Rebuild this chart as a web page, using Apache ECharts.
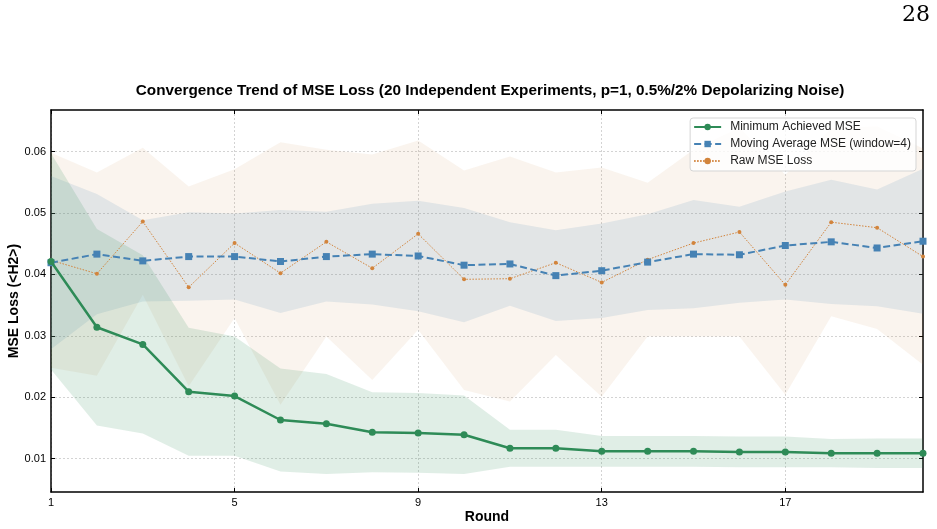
<!DOCTYPE html>
<html>
<head>
<meta charset="utf-8">
<script src="https://cdn.jsdelivr.net/npm/echarts@6/dist/echarts.min.js"></script>
<style>
html,body{margin:0;padding:0;background:#fff;}
#chart{width:937px;height:529px;}
</style>
</head>
<body>
<div id="chart"></div>
<script>
const rounds = ['1','2','3','4','5','6','7','8','9','10','11','12','13','14','15','16','17','18','19','20'];
const yTicks = [0.01, 0.02, 0.03, 0.04, 0.05, 0.06];

const minMse = [0.0421,0.0314,0.0286,0.0209,0.0202,0.0163,0.0157,0.0143,0.0142,0.0139,0.0117,0.0117,0.0112,0.0112,0.0112,0.0111,0.0111,0.0109,0.0109,0.0109];
const minLower = [0.0245,0.0154,0.0141,0.0105,0.0105,0.0079,0.0075,0.0078,0.0077,0.0075,0.0087,0.0087,0.0087,0.0087,0.0087,0.0086,0.0086,0.0086,0.0085,0.0085];
const minUpper = [0.0597,0.0474,0.0431,0.0313,0.0299,0.0247,0.0238,0.0208,0.0207,0.0203,0.0147,0.0147,0.0137,0.0137,0.0137,0.0136,0.0136,0.0132,0.0133,0.0133];

const movAvg = [0.0419,0.0433,0.0422,0.0429,0.0429,0.0421,0.0429,0.0433,0.0430,0.0415,0.0417,0.0398,0.0406,0.0420,0.0433,0.0432,0.0447,0.0453,0.0443,0.0454];
const avgLower = [0.0278,0.0335,0.0356,0.0357,0.0359,0.0337,0.0356,0.0351,0.0340,0.0322,0.0349,0.0324,0.0329,0.0342,0.0345,0.0354,0.0359,0.0352,0.0348,0.0336];
const avgUpper = [0.0560,0.0531,0.0488,0.0501,0.0499,0.0505,0.0502,0.0515,0.0520,0.0508,0.0485,0.0472,0.0483,0.0498,0.0521,0.0510,0.0535,0.0554,0.0538,0.0572];

const rawMse = [0.0423,0.0401,0.0486,0.0379,0.0451,0.0402,0.0453,0.0410,0.0466,0.0392,0.0393,0.0419,0.0387,0.0424,0.0451,0.0469,0.0383,0.0485,0.0476,0.0429];
const rawLower = [0.0248,0.0235,0.0367,0.0218,0.0329,0.0188,0.0299,0.0228,0.0310,0.0212,0.0193,0.0269,0.0201,0.0299,0.0299,0.0299,0.0204,0.0332,0.0311,0.0253];
const rawUpper = [0.0598,0.0566,0.0606,0.0543,0.0571,0.0615,0.0603,0.0595,0.0618,0.0569,0.0592,0.0566,0.0574,0.0549,0.0603,0.0639,0.0562,0.0638,0.0641,0.0605];

const GREEN = '#2e8b57', BLUE = '#4682b4', ORANGE = '#d2843c';
const FONT = '"Liberation Sans", Arial, Helvetica, sans-serif';

function band(name, lower, upper, color, opacity, z) {
  return [
    { name: name + '_lo', type: 'line', data: lower, stack: name, symbol: 'none', lineStyle: { opacity: 0 }, silent: true, z: z },
    { name: name + '_band', type: 'line', data: upper.map((u, i) => +(u - lower[i]).toFixed(6)), stack: name, symbol: 'none', lineStyle: { opacity: 0 }, areaStyle: { color: color, opacity: opacity }, silent: true, z: z }
  ];
}

const yMin = 0.00458, yMax = 0.06676;
const chart = echarts.init(document.getElementById('chart'), null, { renderer: 'canvas' });
const xBase = {
  type: 'category', data: rounds, boundaryGap: false,
  axisLine: { lineStyle: { color: '#000', width: 1.5 } },
  axisTick: { inside: true, length: 4, interval: 3, lineStyle: { color: '#000' } },
};
const yBase = {
  type: 'value', min: yMin, max: yMax,
  axisLine: { show: true, lineStyle: { color: '#000', width: 1.5 } },
  axisTick: { show: true, inside: true, length: 4, customValues: yTicks, lineStyle: { color: '#000' } },
};
chart.setOption({
  animation: false,
  backgroundColor: '#fff',
  title: {
    text: 'Convergence Trend of MSE Loss (20 Independent Experiments, p=1, 0.5%/2% Depolarizing Noise)',
    left: 485, top: 78, textAlign: 'center',
    textStyle: { fontFamily: FONT, fontSize: 15.3, fontWeight: 'bold', color: '#000' }
  },
  graphic: [{
    type: 'text', right: 7, top: 4,
    style: { text: '28', font: '22px "DejaVu Serif", "Liberation Serif", serif', fill: '#000' }
  }],
  legend: {
    data: ['Minimum Achieved MSE', 'Moving Average MSE (window=4)', 'Raw MSE Loss'],
    orient: 'vertical', right: 21, top: 118,
    itemWidth: 27, itemHeight: 8, itemGap: 5,
    padding: [3, 5, 4, 3],
    backgroundColor: 'rgba(255,255,255,0.8)', borderColor: '#d5d5d5', borderWidth: 1, borderRadius: 3,
    textStyle: { fontFamily: FONT, fontSize: 12, color: '#222', padding: [0, 0, 0, 4] }
  },
  grid: { left: 51, right: 14, top: 110, bottom: 37, outerBoundsMode: 'none', containLabel: false },
  xAxis: [
    Object.assign({}, xBase, {
      position: 'bottom',
      name: 'Round', nameLocation: 'middle', nameGap: 18, nameMoveOverlap: false,
      nameTextStyle: { fontFamily: FONT, fontSize: 14, fontWeight: 'bold', color: '#000' },
      axisLabel: { interval: 3, fontFamily: FONT, fontSize: 11, color: '#000', margin: 5 },
      splitLine: { show: true, interval: 3, lineStyle: { color: '#c8c8c8', type: [2, 2], width: 0.8 } }
    }),
    Object.assign({}, xBase, { position: 'top', axisLabel: { show: false }, splitLine: { show: false } })
  ],
  yAxis: [
    Object.assign({}, yBase, {
      position: 'left',
      name: 'MSE Loss (<H2>)', nameLocation: 'middle', nameGap: 30, nameRotate: 90, nameMoveOverlap: false,
      nameTextStyle: { fontFamily: FONT, fontSize: 14, fontWeight: 'bold', color: '#000' },
      axisLabel: { customValues: yTicks, formatter: v => v.toFixed(2), fontFamily: FONT, fontSize: 11, color: '#000', margin: 5 },
      splitLine: { show: true, lineStyle: { color: '#c8c8c8', type: [2, 2], width: 0.8 } }
    }),
    Object.assign({}, yBase, { position: 'right', axisLabel: { show: false }, splitLine: { show: false } })
  ],
  series: [
    ...band('raw', rawLower, rawUpper, '#cd853f', 0.09, 1),
    ...band('avg', avgLower, avgUpper, '#4682b4', 0.13, 2),
    ...band('min', minLower, minUpper, '#2e8b57', 0.15, 3),
    {
      name: 'Raw MSE Loss', type: 'line', data: rawMse, z: 5,
      symbol: 'circle', symbolSize: 4,
      lineStyle: { color: ORANGE, width: 1, type: [1.5, 1.5] },
      itemStyle: { color: ORANGE }
    },
    {
      name: 'Moving Average MSE (window=4)', type: 'line', data: movAvg, z: 6,
      symbol: 'rect', symbolSize: 7,
      lineStyle: { color: BLUE, width: 2, type: [7, 3.5] },
      itemStyle: { color: BLUE }
    },
    {
      name: 'Minimum Achieved MSE', type: 'line', data: minMse, z: 7,
      symbol: 'circle', symbolSize: 7,
      lineStyle: { color: GREEN, width: 2.5 },
      itemStyle: { color: GREEN }
    }
  ]
});
</script>
</body>
</html>
